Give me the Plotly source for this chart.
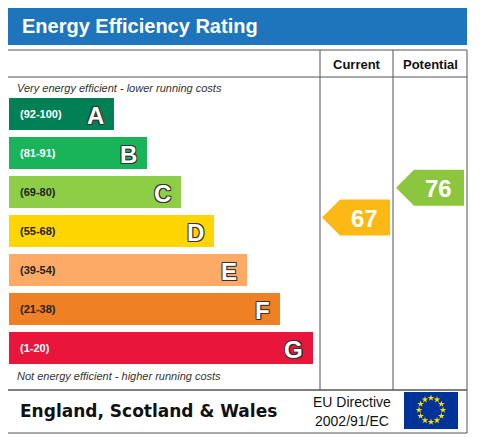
import math
import plotly.graph_objects as go

# rating bands
bands = ["A", "B", "C", "D", "E", "F", "G"]
ranges = ["(92-100)", "(81-91)", "(69-80)", "(55-68)", "(39-54)", "(21-38)", "(1-20)"]
lows = [92, 81, 69, 55, 39, 21, 1]
highs = [100, 91, 80, 68, 54, 38, 20]
band_ends = [114, 147, 181, 214, 247, 280, 313]
colors = ["#008054", "#19b459", "#8dce46", "#ffd500", "#fcaa65", "#ef8023", "#e9153b"]

current = 67
potential = 76
current_color = "#fcb814"
potential_color = "#8cc63f"

W, H = 481, 437
OFF = 8  # page body margin
fig = go.Figure()

top0, step, bh = 98, 39, 32
shadow = "-1px -1px 0 #333, 1px -1px 0 #333, -1px 1px 0 #333, 1px 1px 0 #333"

for i, b in enumerate(bands):
    y0 = top0 + i * step
    y1 = y0 + bh
    x1 = band_ends[i]
    fig.add_trace(go.Scatter(x=[9, x1, x1, 9, 9], y=[y0, y0, y1, y1, y0], fill="toself",
                             fillcolor=colors[i], line=dict(width=0), mode="lines",
                             hoverinfo="skip", showlegend=False))
    fig.add_annotation(x=18, y=(y0 + y1) / 2, text="<b>" + ranges[i] + "</b>", showarrow=False,
                       xanchor="left", font=dict(family="Arial", size=11,
                                                  color="white" if i in (0, 1, 6) else "#222"))
    fig.add_annotation(x=x1 - 8, y=(y0 + y1) / 2 + 1, text="<b>" + b + "</b>", showarrow=False,
                       xanchor="right", font=dict(family="Arial", size=24, color="white", shadow=shadow))

def arrow(v, xl, xr, col):
    i = next(k for k, lo in enumerate(lows) if v >= lo)
    yc = top0 + i * step + bh * (highs[i] - v) / (highs[i] - lows[i])
    h = 18
    xs = [xl, xl + 18, xr, xr, xl + 18, xl]
    ys = [yc, yc - h, yc - h, yc + h, yc + h, yc]
    fig.add_trace(go.Scatter(x=xs, y=ys, fill="toself", fillcolor=col, line=dict(width=0),
                             mode="lines", hoverinfo="skip", showlegend=False))
    fig.add_annotation(x=(xl + xr) / 2 + 8, y=yc + 1, text="<b>%d</b>" % v, showarrow=False,
                       font=dict(family="Arial", size=24, color="white"))

arrow(current, 322, 390, current_color)
arrow(potential, 396, 464, potential_color)

# EU flag stars
cx, cy, r = 431, 410, 12
sx = [cx + r * math.cos(2 * math.pi * k / 12) for k in range(12)]
sy = [cy + r * math.sin(2 * math.pi * k / 12) for k in range(12)]
fig.add_trace(go.Scatter(x=sx, y=sy, mode="markers", hoverinfo="skip", showlegend=False,
                         marker=dict(symbol="star", size=5, color="#ffdd00")))

line = dict(color="#555", width=1)
shapes = [
    dict(type="rect", x0=7, x1=467, y0=7, y1=45, fillcolor="#1f75bc", line=dict(width=0), layer="below"),
    dict(type="rect", x0=7, x1=467, y0=50, y1=390, line=line),
    dict(type="line", x0=320, x1=320, y0=50, y1=390, line=line),
    dict(type="line", x0=393, x1=393, y0=50, y1=390, line=line),
    dict(type="line", x0=7, x1=467, y0=77, y1=77, line=line),
    dict(type="rect", x0=7, x1=467, y0=390, y1=433, line=line),
    dict(type="rect", x0=404, x1=458, y0=392, y1=429, fillcolor="#003399", line=dict(width=0), layer="below"),
]

texts = [
    dict(x=20, y=26, text="<b>Energy Efficiency Rating</b>", xanchor="left", font=dict(family="Arial", size=20, color="white")),
    dict(x=357, y=64, text="<b>Current</b>", font=dict(family="Arial", size=13, color="#111")),
    dict(x=430, y=64, text="<b>Potential</b>", font=dict(family="Arial", size=13, color="#111")),
    dict(x=15, y=88, text="<i>Very energy efficient - lower running costs</i>", xanchor="left", font=dict(family="Arial", size=11, color="#333")),
    dict(x=15, y=376, text="<i>Not energy efficient - higher running costs</i>", xanchor="left", font=dict(family="Arial", size=11, color="#333")),
    dict(x=18, y=411, text="<b>England, Scotland & Wales</b>", xanchor="left", font=dict(family="DejaVu Sans", size=17, color="#111")),
    dict(x=352, y=402, text="EU Directive", font=dict(family="Arial", size=14, color="#111")),
    dict(x=352, y=421, text="2002/91/EC", font=dict(family="Arial", size=14, color="#111")),
]
for t in texts:
    fig.add_annotation(showarrow=False, **t)

fig.update_layout(width=W, height=H, margin=dict(l=0, r=0, t=0, b=0),
                  paper_bgcolor="white", plot_bgcolor="white", shapes=shapes,
                  xaxis=dict(range=[OFF, W + OFF], visible=False, fixedrange=True),
                  yaxis=dict(range=[H + OFF, OFF], visible=False, fixedrange=True))
fig.write_html("out.html")
